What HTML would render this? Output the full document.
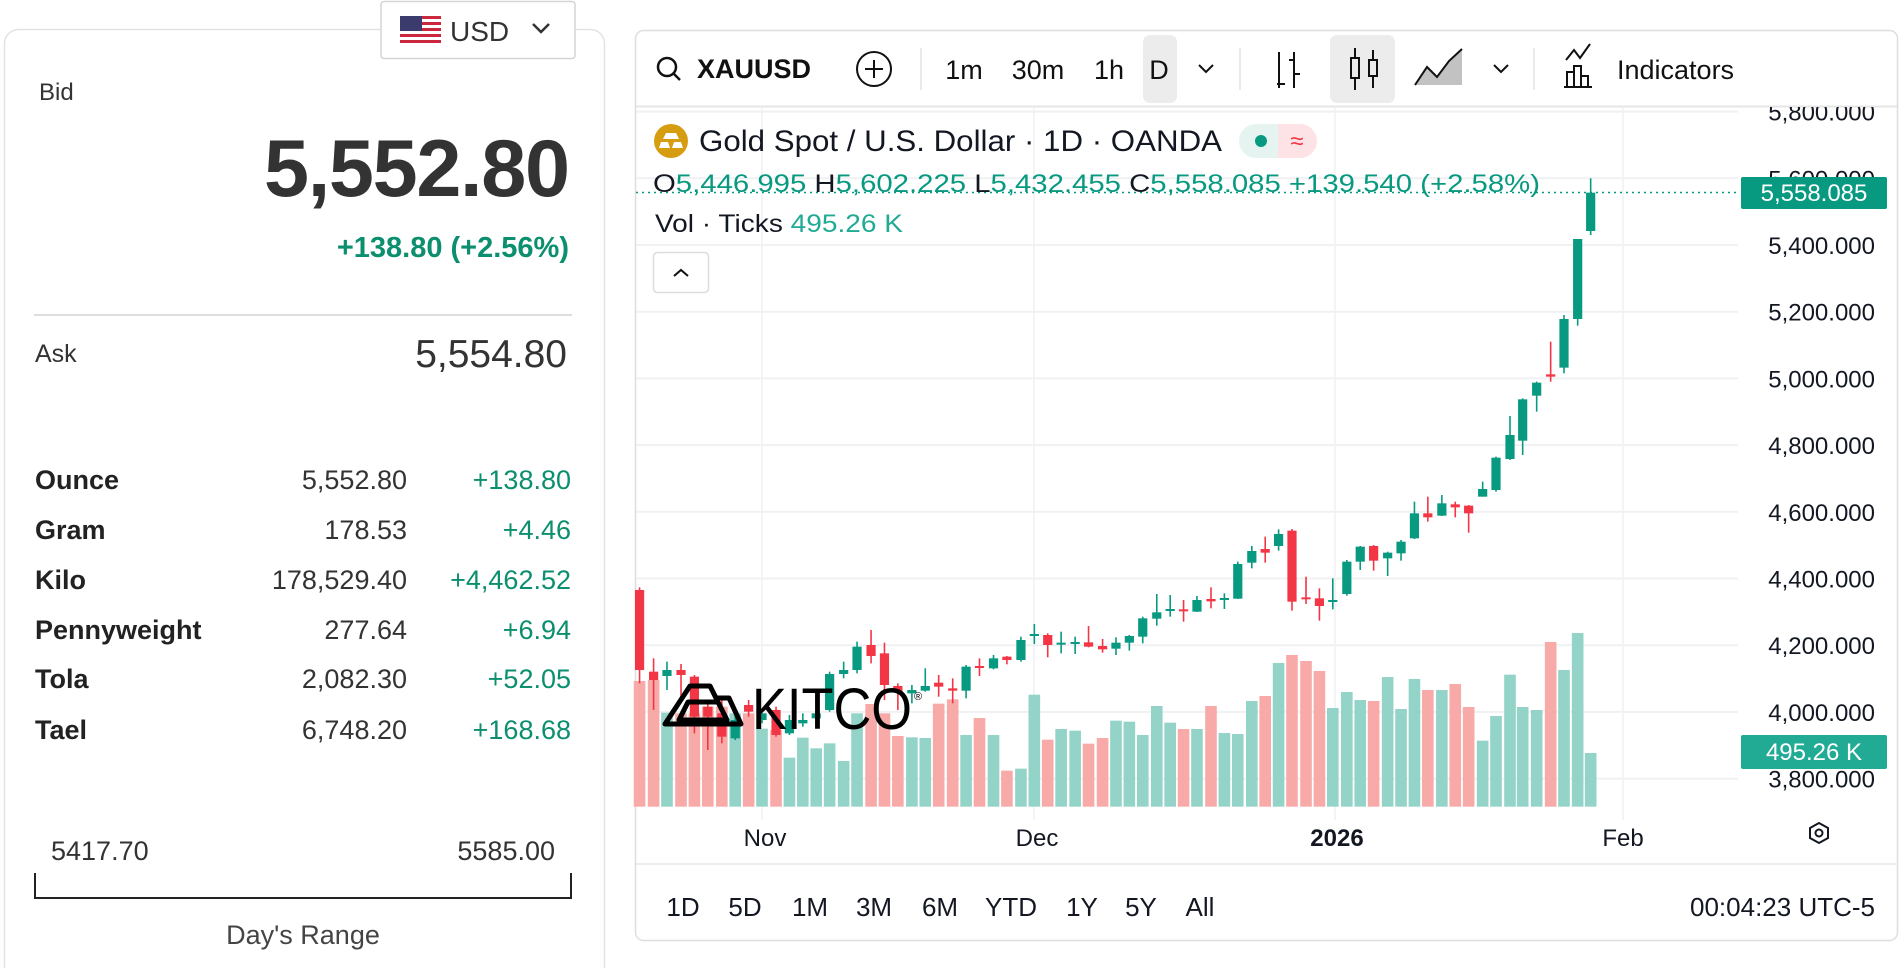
<!DOCTYPE html>
<html><head><meta charset="utf-8"><style>
html,body{margin:0;padding:0;background:#fff;width:1900px;height:968px;overflow:hidden}
svg{display:block;font-family:"Liberation Sans",sans-serif}
</style></head><body>
<svg id="s" width="1900" height="968" viewBox="0 0 1900 968" xmlns="http://www.w3.org/2000/svg">
<defs><clipPath id="pc"><rect x="1700" y="107" width="200" height="713"/></clipPath></defs>
<!-- left card -->
<rect x="4.5" y="29.5" width="600" height="960" rx="14" fill="#fff" stroke="#e3e3e3" stroke-width="1.5"/>
<rect x="381" y="1.5" width="194" height="57" rx="3" fill="#fff" stroke="#d4d4d4" stroke-width="1.5"/>
<g>
<rect x="400" y="16" width="41" height="28" fill="#fff"/>
<g fill="#c9283e"><rect x="400" y="16" width="41" height="3"/><rect x="400" y="22" width="41" height="3"/><rect x="400" y="28" width="41" height="3"/><rect x="400" y="34" width="41" height="3"/><rect x="400" y="40" width="41" height="3"/></g>
<rect x="400" y="16" width="22" height="15" fill="#3c3b6e"/>
</g>
<text x="450" y="41" font-size="28" fill="#333">USD</text>
<path d="M533 24 l8 8 l8 -8" fill="none" stroke="#333" stroke-width="2.5"/>
<text x="39" y="100" font-size="24" fill="#333">Bid</text>
<text x="570" y="196" font-size="81" font-weight="bold" fill="#333" text-anchor="end" textLength="306">5,552.80</text>
<text x="569" y="257" font-size="29" font-weight="bold" fill="#0b8f6e" text-anchor="end">+138.80 (+2.56%)</text>
<line x1="34" y1="315" x2="572" y2="315" stroke="#ddd" stroke-width="2"/>
<text x="35" y="362" font-size="25" fill="#333">Ask</text>
<text x="567" y="367" font-size="39" fill="#333" text-anchor="end">5,554.80</text>
<g font-size="27" fill="#222">
<text x="35" y="489" font-weight="bold">Ounce</text><text x="407" y="489" text-anchor="end" fill="#333">5,552.80</text><text x="571" y="489" text-anchor="end" fill="#0b8f6e">+138.80</text>
<text x="35" y="539" font-weight="bold">Gram</text><text x="407" y="539" text-anchor="end" fill="#333">178.53</text><text x="571" y="539" text-anchor="end" fill="#0b8f6e">+4.46</text>
<text x="35" y="589" font-weight="bold">Kilo</text><text x="407" y="589" text-anchor="end" fill="#333">178,529.40</text><text x="571" y="589" text-anchor="end" fill="#0b8f6e">+4,462.52</text>
<text x="35" y="639" font-weight="bold">Pennyweight</text><text x="407" y="639" text-anchor="end" fill="#333">277.64</text><text x="571" y="639" text-anchor="end" fill="#0b8f6e">+6.94</text>
<text x="35" y="688" font-weight="bold">Tola</text><text x="407" y="688" text-anchor="end" fill="#333">2,082.30</text><text x="571" y="688" text-anchor="end" fill="#0b8f6e">+52.05</text>
<text x="35" y="739" font-weight="bold">Tael</text><text x="407" y="739" text-anchor="end" fill="#333">6,748.20</text><text x="571" y="739" text-anchor="end" fill="#0b8f6e">+168.68</text>
</g>
<text x="51" y="860" font-size="27" fill="#333">5417.70</text>
<text x="555" y="860" font-size="27" fill="#333" text-anchor="end">5585.00</text>
<path d="M35 873 V898 H571 V873" fill="none" stroke="#222" stroke-width="2"/>
<text x="303" y="944" font-size="27" fill="#444" text-anchor="middle">Day's Range</text>

<!-- chart panel -->
<rect x="635.5" y="30.5" width="1262" height="910" rx="8" fill="#fff" stroke="#dedede" stroke-width="1.5"/>
<line x1="636" y1="106.5" x2="1897" y2="106.5" stroke="#e6e6e6" stroke-width="2"/>
<line x1="636" y1="864" x2="1897" y2="864" stroke="#e6e6e6" stroke-width="1.5"/>
<!-- toolbar -->
<circle cx="667" cy="67" r="9" fill="none" stroke="#111" stroke-width="2.5"/><line x1="673" y1="73" x2="680" y2="80" stroke="#111" stroke-width="2.5"/>
<text x="697" y="78" font-size="27" font-weight="bold" fill="#111">XAUUSD</text>
<circle cx="874" cy="69" r="17" fill="none" stroke="#111" stroke-width="2"/><path d="M874 60v18M865 69h18" stroke="#111" stroke-width="2"/>
<g stroke="#e3e3e3" stroke-width="1.5"><line x1="921" y1="48" x2="921" y2="90"/><line x1="1240" y1="48" x2="1240" y2="90"/><line x1="1534" y1="48" x2="1534" y2="90"/></g>
<rect x="1143" y="35" width="34" height="68" rx="7" fill="#ececec"/>
<rect x="1330" y="35" width="65" height="68" rx="7" fill="#ececec"/>
<g font-size="27" fill="#111">
<text x="964" y="79" text-anchor="middle">1m</text><text x="1038" y="79" text-anchor="middle">30m</text><text x="1109" y="79" text-anchor="middle">1h</text><text x="1159" y="79" text-anchor="middle">D</text>
<text x="1617" y="79">Indicators</text>
</g>
<path d="M1199 65l7 7l7-7M1494 65l7 7l7-7" fill="none" stroke="#111" stroke-width="2"/>
<path d="M1279 52v36M1277 84h8M1294 52v36M1289 60h5M1294 74h6" fill="none" stroke="#111" stroke-width="2"/>
<path d="M1355 48v42M1373 50v38" stroke="#111" stroke-width="2"/><rect x="1351" y="58" width="8" height="20" fill="#ececec" stroke="#111" stroke-width="2"/><rect x="1369" y="60" width="8" height="16" fill="#ececec" stroke="#111" stroke-width="2"/>
<path d="M1415 85l12-18l10 10l12-16l13-12v36h-47z" fill="#999" opacity=".6"/><path d="M1415 85l12-18l10 10l12-16l13-12" fill="none" stroke="#111" stroke-width="2"/>
<path d="M1566 60l8-10l6 8l10-14M1567 86v-14h7v14M1574 86v-20h7v20M1581 86v-10h7v10M1564 87h28" fill="none" stroke="#111" stroke-width="2"/>

<g id="chart"></g>

<!-- legend -->
<circle cx="671" cy="141" r="17" fill="#d79d11"/>
<path d="M663 139h16l-3-6h-10z M659 148h11l-2-6h-7z M672 148h11l-2-6h-7z" fill="#fff"/>
<text x="699" y="151" font-size="30" fill="#131722" textLength="523" lengthAdjust="spacingAndGlyphs">Gold Spot / U.S. Dollar · 1D · OANDA</text>
<rect x="1239" y="124" width="78" height="34" rx="17" fill="#e6f4f1"/>
<path d="M1278 124h22a17 17 0 0 1 0 34h-22z" fill="#fde3e6"/>
<circle cx="1261" cy="141" r="6" fill="#089981"/>
<text x="1297" y="149" font-size="24" fill="#f23645" text-anchor="middle">≈</text>
<text x="653" y="192" font-size="25" fill="#089981" textLength="887" lengthAdjust="spacingAndGlyphs"><tspan fill="#131722">O</tspan>5,446.995 <tspan fill="#131722">H</tspan>5,602.225 <tspan fill="#131722">L</tspan>5,432.455 <tspan fill="#131722">C</tspan>5,558.085 +139.540 (+2.58%)</text>
<text x="655" y="232" font-size="25" fill="#131722" textLength="248" lengthAdjust="spacingAndGlyphs">Vol · Ticks <tspan fill="#22ab94">495.26 K</tspan></text>
<rect x="653.5" y="252.5" width="55" height="40" rx="4" fill="#fff" stroke="#ddd" stroke-width="1.5"/>
<path d="M674 276l7-6l7 6" fill="none" stroke="#111" stroke-width="2"/>

<!-- KITCO -->
<path d="M690 686h20l6 12h13l12 26h-76z M688 702h30l9 18h-48z" fill="none" stroke="#000" stroke-width="5" stroke-linejoin="round"/>
<text x="752" y="729" font-size="58" fill="#000" textLength="160" lengthAdjust="spacingAndGlyphs">KITCO</text>
<text x="914" y="700" font-size="11" fill="#000">®</text>

<!-- price axis -->
<g font-size="24" fill="#131722" text-anchor="end" id="pax" clip-path="url(#pc)"></g>
<rect x="1741" y="177" width="146" height="32" rx="2" fill="#089981"/>
<text x="1814" y="201" font-size="24" fill="#fff" text-anchor="middle">5,558.085</text>
<rect x="1741" y="735" width="146" height="34" rx="2" fill="#22ab94"/>
<text x="1814" y="760" font-size="24" fill="#fff" text-anchor="middle">495.26 K</text>

<!-- time axis -->
<g font-size="24" fill="#131722" text-anchor="middle">
<text x="765" y="846">Nov</text><text x="1037" y="846">Dec</text><text x="1337" y="846" font-weight="bold">2026</text><text x="1623" y="846">Feb</text>
</g>
<path d="M1810 828l9-5l9 5v10l-9 5l-9-5z" fill="none" stroke="#131722" stroke-width="2"/><circle cx="1819" cy="833" r="3.5" fill="none" stroke="#131722" stroke-width="2"/>
<g font-size="26" fill="#131722" text-anchor="middle">
<text x="683" y="916">1D</text><text x="745" y="916">5D</text><text x="810" y="916">1M</text><text x="874" y="916">3M</text><text x="940" y="916">6M</text><text x="1011" y="916">YTD</text><text x="1082" y="916">1Y</text><text x="1141" y="916">5Y</text><text x="1200" y="916">All</text>
<text x="1875" y="916" text-anchor="end">00:04:23 UTC-5</text>
</g>
</svg>
<script>
var NS="http://www.w3.org/2000/svg";
function el(p,t,a){var e=document.createElementNS(NS,t);for(var k in a)e.setAttribute(k,a[k]);p.appendChild(e);return e;}
var ch=document.getElementById('chart');
var clip=el(ch,'g',{});
for(var i=0;i<12;i++){var y=111.6+i*66.7;if(y<107||y>820)continue;el(clip,'line',{x1:636,x2:1738,y1:y,y2:y,stroke:'#f0f1f3','stroke-width':2});}
[762,1034,1335,1623].forEach(function(x){el(clip,'line',{x1:x,x2:x,y1:107,y2:820,stroke:'#f0f1f3','stroke-width':1.5});});
var pax=document.getElementById('pax');
var labs=['5,800.000','5,600.000','5,400.000','5,200.000','5,000.000','4,800.000','4,600.000','4,400.000','4,200.000','4,000.000','3,800.000'];
labs.forEach(function(l,i){var t=el(pax,'text',{x:1875,y:111.6+i*66.7+9});t.textContent=l;});
var c2=[[15,'r',270,510,262,550],[37,'r',515,540,475,630],[58,'g',510,528,485,570],[80,'r',510,525,492,590],[101,'r',530,650,525,700],[122,'r',620,650,600,750],[144,'r',640,710,600,730],[165,'g',660,715,640,720],[186,'r',615,635,600,650],[207,'g',640,660,630,670],[229,'r',630,705,620,710],[250,'g',660,700,645,705],[271,'g',660,670,640,680],[292,'g',640,655,630,665],[313,'g',522,630,515,635],[335,'g',510,522,485,535],[356,'g',440,510,425,520],[378,'r',435,468,390,490],[399,'r',460,555,428,600],[420,'r',558,575,550,630],[442,'g',570,580,555,610],[463,'g',558,572,505,575],[484,'r',548,560,525,590],[506,'r',565,572,535,610],[527,'g',500,572,495,595],[548,'r',498,502,475,528],[570,'g',475,505,465,508],[591,'r',470,480,468,493],[613,'g',420,480,410,485],[634,'g',402,406,372,432],[655,'r',405,435,400,472],[676,'g',428,434,395,460],[698,'g',426,430,410,462],[719,'r',427,440,378,442],[741,'r',438,448,417,458],[762,'g',428,446,412,465],[783,'g',408,428,405,452],[804,'g',355,410,350,430],[826,'g',337,356,282,377],[847,'g',327,331,285,350],[868,'r',328,332,300,365],[889,'g',300,335,288,336],[911,'r',297,304,262,325],[932,'g',294,297,280,327],[953,'g',192,296,185,297],[975,'g',153,188,138,205],[996,'r',147,158,110,188],[1017,'g',102,138,88,152],[1038,'r',92,305,87,332],[1060,'r',292,298,230,312],[1081,'r',295,318,265,362],[1102,'g',300,304,235,328],[1124,'g',185,282,180,287],[1145,'g',140,185,138,210],[1166,'r',138,182,135,212],[1188,'g',158,175,155,228],[1209,'g',125,160,120,182],[1230,'g',40,115,5,117],[1251,'r',40,52,-10,65],[1273,'g',10,47,-15,48],[1294,'r',13,22,5,52],[1315,'r',17,40,15,98]];
var C=[];
c2.forEach(function(c){C.push([630+c[0]/1.568,c[1],500+c[2]/3,500+c[3]/3,500+c[4]/3,500+c[5]/3]);});
var c3=[[38,'g',987,1010,965,1010],[78,'g',893,990,890,995],[120,'g',825,897,768,900],[158,'g',718,842,715,885],[200,'g',668,707,665,755],[242,'r',643,650,545,665],[282,'g',477,623,465,640],[323,'g',237,477,237,497],[362,'g',98,213,55,225]];
c3.forEach(function(c){C.push([1470+c[0]/3,c[1],160+c[2]/3,160+c[3]/3,160+c[4]/3,160+c[5]/3]);});
var vol=[[543,'r'],[540,'r'],[638,'g'],[640,'r'],[640,'r'],[620,'r'],[620,'r'],[640,'g'],[640,'r'],[686,'g'],[690,'r'],[773,'g'],[713,'g'],[745,'g'],[730,'g'],[783,'g'],[640,'g'],[612,'r'],[640,'r'],[708,'r'],[712,'g'],[714,'g'],[611,'r'],[598,'r'],[705,'g'],[654,'r'],[705,'g'],[812,'r'],[806,'g'],[584,'g'],[719,'r'],[687,'g'],[692,'g'],[731,'r'],[714,'r'],[662,'g'],[665,'g'],[705,'g'],[618,'g'],[668,'g'],[687,'r'],[687,'g'],[618,'r'],[699,'g'],[702,'g'],[603,'g'],[588,'r'],[489,'g'],[465,'r'],[483,'r'],[513,'r'],[624,'g'],[576,'g'],[600,'g'],[603,'r'],[531,'g'],[627,'g'],[537,'g'],[570,'r'],[570,'g'],[552,'r'],[621,'r'],[722,'g'],[648,'g'],[524,'g'],[621,'g'],[630,'g'],[426,'r'],[510,'g'],[399,'g'],[759,'g']];
var bot=500+920/3;
vol.forEach(function(v,i){var x=C[i]?C[i][0]:0;var top=500+v[0]/3;el(clip,'rect',{x:x-5.8,y:top,width:11.6,height:bot-top,fill:v[1]=='g'?'#93d3c8':'#f8aaa8'});});
C.forEach(function(c){var col=c[1]=='g'?'#089981':'#f23645';el(clip,'line',{x1:c[0],x2:c[0],y1:Math.max(c[4],107),y2:c[5],stroke:col,'stroke-width':1.6});el(clip,'rect',{x:c[0]-4.6,y:c[2],width:9.2,height:Math.max(c[3]-c[2],2),fill:col});});
el(clip,'line',{x1:636,x2:1740,y1:192.5,y2:192.5,stroke:'#089981','stroke-width':1.5,'stroke-dasharray':'2 4'});
</script>
</body></html>
